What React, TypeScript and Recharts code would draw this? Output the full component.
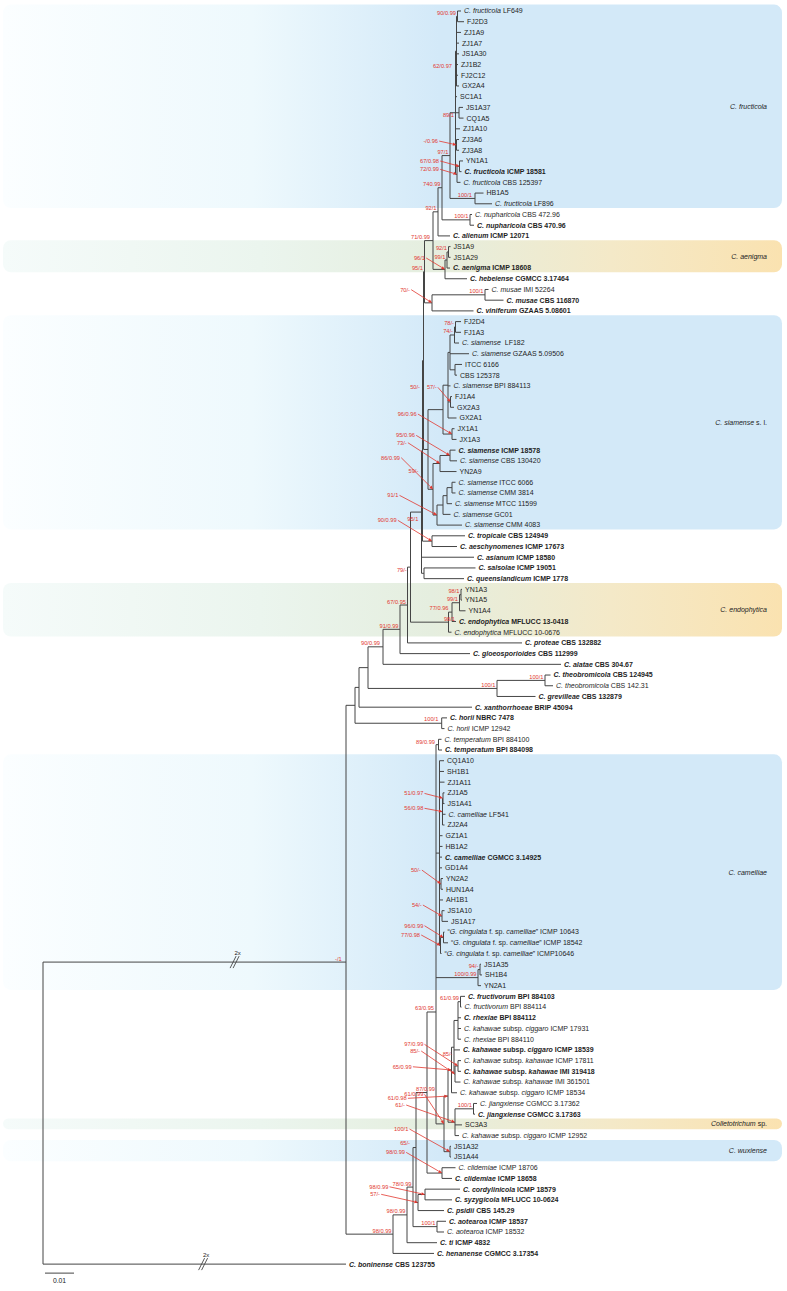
import React from 'react';
import { ComposedChart, XAxis, YAxis, Scatter, ReferenceLine, ReferenceArea } from 'recharts';

// ---------- DATA ----------
// Leaf labels (markup: text between * is italic), top to bottom
const leafLabels: string[] = [
  '*C. fructicola* LF649', 'FJ2D3', 'ZJ1A9', 'ZJ1A7', 'JS1A30', 'ZJ1B2', 'FJ2C12', 'GX2A4', 'SC1A1', 'JS1A37',
  'CQ1A5', 'ZJ1A10', 'ZJ3A6', 'ZJ3A8', 'YN1A1', '*C. fructicola* ICMP 18581', '*C. fructicola* CBS 125397', 'HB1A5', '*C. fructicola* LF896', '*C. nupharicola* CBS 472.96',
  '*C. nupharicola* CBS 470.96', '*C. alienum* ICMP 12071', 'JS1A9', 'JS1A29', '*C. aenigma* ICMP 18608', '*C. hebeiense* CGMCC 3.17464', '*C. musae* IMI 52264', '*C. musae* CBS 116870', '*C. viniferum* GZAAS 5.08601', 'FJ2D4',
  'FJ1A3', '*C. siamense*  LF182', '*C. siamense* GZAAS 5.09506', 'ITCC 6166', 'CBS 125378', '*C. siamense* BPI 884113', 'FJ1A4', 'GX2A3', 'GX2A1', 'JX1A1',
  'JX1A3', '*C. siamense* ICMP 18578', '*C. siamense* CBS 130420', 'YN2A9', '*C. siamense* ITCC 6066', '*C. siamense* CMM 3814', '*C. siamense* MTCC 11599', '*C. siamense* GC01', '*C. siamense* CMM 4083', '*C. tropicale* CBS 124949',
  '*C. aeschynomenes* ICMP 17673', '*C. asianum* ICMP 18580', '*C. salsolae* ICMP 19051', '*C. queenslandicum* ICMP 1778', 'YN1A3', 'YN1A5', 'YN1A4', '*C. endophytica* MFLUCC 13-0418', '*C. endophytica* MFLUCC 10-0676', '*C. proteae* CBS 132882',
  '*C. gloeosporioides* CBS 112999', '*C. alatae* CBS 304.67', '*C. theobromicola* CBS 124945', '*C. theobromicola* CBS 142.31', '*C. grevilleae* CBS 132879', '*C. xanthorrhoeae* BRIP 45094', '*C. horii* NBRC 7478', '*C. horii* ICMP 12942', '*C. temperatum* BPI 884100', '*C. temperatum* BPI 884098',
  'CQ1A10', 'SH1B1', 'ZJ1A11', 'ZJ1A5', 'JS1A41', '*C. camelliae* LF541', 'ZJ2A4', 'GZ1A1', 'HB1A2', '*C. camelliae* CGMCC 3.14925',
  'GD1A4', 'YN2A2', 'HUN1A4', 'AH1B1', 'JS1A10', 'JS1A17', '\u201C*G. cingulata* f. sp. *camelliae*\u201D ICMP 10643', '\u201C*G. cingulata* f. sp. *camelliae*\u201D ICMP 18542', '\u201C*G. cingulata* f. sp. *camelliae*\u201D ICMP10646', 'JS1A35',
  'SH1B4', 'YN2A1', '*C. fructivorum* BPI 884103', '*C. fructivorum* BPI 884114', '*C. rhexiae* BPI 884112', '*C. kahawae* subsp. *ciggaro* ICMP 17931', '*C. rhexiae* BPI 884110', '*C. kahawae* subsp. *ciggaro* ICMP 18539', '*C. kahawae* subsp. *kahawae* ICMP 17811', '*C. kahawae* subsp. *kahawae* IMI 319418',
  '*C. kahawae* subsp. *kahawae* IMI 361501', '*C. kahawae* subsp. *ciggaro* ICMP 18534', '*C. jiangxiense* CGMCC 3.17362', '*C. jiangxiense* CGMCC 3.17363', 'SC3A3', '*C. kahawae* subsp. *ciggaro* ICMP 12952', 'JS1A32', 'JS1A44', '*C. clidemiae* ICMP 18706', '*C. clidemiae* ICMP 18658',
  '*C. cordylinicola* ICMP 18579', '*C. syzygicola* MFLUCC 10-0624', '*C. psidii* CBS 145.29', '*C. aotearoa* ICMP 18537', '*C. aotearoa* ICMP 18532', '*C. ti* ICMP 4832', '*C. henanense* CGMCC 3.17354', '*C. boninense* CBS 123755',
];

// type strains (shown in bold)
const boldLeaves: number[] = [15, 20, 21, 24, 25, 27, 28, 41, 49, 50, 51, 52, 53, 57, 59, 60, 61, 62, 64, 65, 66, 69, 79, 92, 94, 97, 99, 103, 109, 110, 111, 112, 113, 115, 116, 117];

// parent node of every leaf
const leafParents: string[] = [
  'nF1', 'nF1', 'nF2', 'nF2', 'nF2', 'nF2', 'nF2', 'nF2', 'nFm', 'nF3a',
  'nF3a', 'nFm', 'nF3', 'nF3', 'nF4', 'nF4', 'nF5', 'nHB', 'nHB', 'nNup',
  'nNup', 'n92', 'nAe1', 'nAe1', 'nAe2', 'nAe3', 'nMus', 'nMus', 'nMV', 'nS1',
  'nS1', 'nS2', 'nS3', 'nS4', 'nS4', 'nS5', 'nS5b', 'nS5b', 'nS5', 'nS6',
  'nS6', 'nS9a', 'nS9a', 'nS9', 'nS12', 'nS12', 'nS13', 'nS14', 'nS15', 'nTA',
  'nTA', 'nC', 'nSQ', 'nSQ', 'nE1', 'nE1', 'nE2', 'nE3', 'nE4', 'n67',
  'n91', 'n90', 'nTh', 'nTh', 'nTG', 'n359', 'nHo', 'nHo', 'nTe', 'nTe',
  'nCM', 'nCM', 'nCM', 'nCa', 'nCa', 'nCb', 'nCb', 'nCM', 'nCM', 'nCM',
  'nCM', 'nCc', 'nCc', 'nCM', 'nCd', 'nCd', 'nCe', 'nCe', 'nCf', 'nJ1',
  'nJ1', 'nJ2', 'nFr', 'nFr', 'nR', 'nR', 'nR', 'nK85a', 'nKk', 'nKk',
  'nKk2', 'nK65', 'nJx', 'nJx', 'nK61c', 'nK61c', 'nJS2', 'nJS2', 'nCl', 'nCl',
  'nCS', 'nCS', 'nPs', 'nAot', 'nAot', 'N407', 'N393', 'root',
];

// cumulative branch length of every leaf (29 units = 0.01 substitutions/site)
const leafDepths: number[] = [
  418, 421, 418, 416, 416, 415, 415, 416, 414, 420,
  420.5, 417, 416, 416, 420, 418.5, 417.5, 440.5, 449, 429,
  431, 407, 407.5, 407.5, 407, 424, 445.5, 460.5, 430.5, 418,
  418, 416, 426, 419, 414, 407.5, 409, 411, 413.5, 411.5,
  413.5, 412.5, 414, 413.5, 412.5, 412.5, 409, 407.5, 419, 422,
  414, 431, 432.5, 421, 419, 419, 422.5, 413, 408.5, 479,
  427, 518, 507.5, 510, 492.5, 429, 404, 401.5, 398.5, 399,
  401, 401, 401.5, 401.5, 401.5, 402.5, 401.5, 399.5, 399.5, 399,
  399, 400, 400, 400, 401.5, 405, 401.5, 405, 398.5, 438,
  439, 438, 422, 418.5, 418, 418, 418, 417, 418, 418,
  417.5, 414, 434, 432, 419, 416, 408, 408, 412.5, 409,
  417, 409, 401, 403, 401, 394, 391, 303,
];

// internal nodes: [id, parent, cumulative depth, support (ML bootstrap / posterior)]
const internalNodes: [string, string, number, string][] = [
  ['root', '', 0, ''], ['N346', 'root', 303, '-/1'], ['nH', 'N346', 312, ''], ['n359', 'nH', 316, ''],
  ['n368', 'n359', 325, ''], ['n90', 'n368', 340, '90/0.99'], ['n91', 'n90', 357, '91/0.99'], ['n67', 'n91', 364.5, '67/0.95'],
  ['n79', 'n67', 367.5, '79/-'], ['nC', 'n79', 378.5, '95/1'], ['nU', 'nC', 379.5, '59/-'], ['nB', 'nU', 380.5, '50/-'],
  ['nA', 'nB', 381.5, '95/1'], ['n71', 'nA', 390, '71/0.99'], ['n92', 'n71', 395, '92/1'], ['nF7', 'n92', 399, '740.99'],
  ['nF6', 'nF7', 407, '97/1'], ['nFm', 'nF6', 412.5, '89/1'], ['nF2', 'nFm', 413.5, '62/0.97'], ['nF1', 'nF2', 414.5, '90/0.99'],
  ['nF3a', 'nFm', 416, ''], ['nF3', 'nFm', 413.5, '-/0.96'], ['nF5', 'nFm', 414, '72/0.99'], ['nF4', 'nF5', 416.5, '67/0.98'],
  ['nHB', 'nF6', 432, '100/1'], ['nNup', 'nF7', 427, '100/1'], ['nAe3', 'n71', 402, '96/1'], ['nAe2', 'nAe3', 404, '99/1'],
  ['nAe1', 'nAe2', 405.5, '92/1'], ['nMV', 'nA', 389, '70/-'], ['nMus', 'nMV', 442, '100/1'], ['nSR', 'nB', 385, ''],
  ['nS7', 'nSR', 400, ''], ['nS5', 'nS7', 405, ''], ['nS3', 'nS5', 407, ''], ['nS2', 'nS3', 411.5, '74/-'],
  ['nS1', 'nS2', 412.5, '78/-'], ['nS4', 'nS3', 412, ''], ['nS5b', 'nS5', 407.5, '57/-'], ['nS6', 'nS7', 409, '96/0.96'],
  ['nS10', 'nSR', 390, '86/0.99'], ['nS9', 'nS10', 397, '73/-'], ['nS9a', 'nS9', 407, '95/0.96'], ['nS15', 'nS10', 394, '91/1'],
  ['nS14', 'nS15', 400, ''], ['nS13', 'nS14', 404, ''], ['nS12', 'nS13', 409, ''], ['nTA', 'nU', 389, '90/0.99'],
  ['nSQ', 'nC', 381, ''], ['nE4', 'n79', 405.5, '98/1'], ['nE3', 'nE4', 409, '77/0.96'], ['nE2', 'nE3', 416.5, '99/1'],
  ['nE1', 'nE2', 418, '98/1'], ['nTG', 'n368', 454, '100/1'], ['nTh', 'nTG', 502, '100/1'], ['nHo', 'nH', 398.7, '100/1'],
  ['N393', 'N346', 350, '98/0.99'], ['N407', 'N393', 364, '98/0.99'], ['N413', 'N407', 370, '78/0.99'], ['N415', 'N413', 373, '65/-'],
  ['N427', 'N415', 384, '87/0.99'], ['N436', 'N427', 393, '63/0.95'], ['nTe', 'N436', 395.5, '89/0.99'], ['nCM', 'N436', 396.5, ''],
  ['nCb', 'nCM', 399.5, '56/0.98'], ['nCa', 'nCb', 400, '51/0.97'], ['nCc', 'nCM', 398, '50/-'], ['nCd', 'nCM', 399, '54/-'],
  ['nCf', 'nCM', 397.5, '77/0.98'], ['nCe', 'nCf', 400.5, '96/0.99'], ['nJ2', 'N436', 435, '100/0.99'], ['nJ1', 'nJ2', 437, '94/-'],
  ['nK61a', 'N436', 401, '61/0.99'], ['nK61b', 'nK61a', 405, '61/0.98'], ['nK65', 'nK61b', 408.5, '65/0.99'], ['nK85a', 'nK65', 411, '85/-'],
  ['nR', 'nK85a', 415, ''], ['nFr', 'nR', 417.5, '61/0.99'], ['nKk2', 'nK85a', 412, '85/-'], ['nKk', 'nKk2', 415, '97/0.99'],
  ['nK61c', 'nK61b', 412, '61/-'], ['nJx', 'nK61c', 430.5, '100/1'], ['nJS2', 'nK61a', 407, '100/1'], ['nCl', 'N427', 399, '98/0.99'],
  ['nPs', 'N415', 375, '57/-'], ['nCS', 'nPs', 382, '98/0.99'], ['nAot', 'N413', 394, '100/1'],
];

// nodes drawn off-centre in the original figure (row position)
const nodeRowOverrides: Record<string, number> = { N436: 93.46, N346: 88.8 };

// highlighted clades: [label, first leaf, last leaf, colour scheme]
const clades: [string, number, number, string][] = [
  ['*C. fructicola*', 0, 18, 'blue'],
  ['*C. aenigma*', 22, 24, 'warm'],
  ['*C. siamense* s. l.', 29, 48, 'blue'],
  ['*C. endophytica*', 54, 58, 'warm'],
  ['*C. camelliae*', 70, 91, 'blue'],
  ['*Colletotrichum* sp.', 104, 104, 'warm'],
  ['*C. wuxiense*', 106, 107, 'blue'],
];

// shortened branches: [node id, fraction along branch]
const breakMarks: [string, number][] = [['N346', 0.634], ['leaf117', 0.53]];
const scaleBarLabel = '0.01';
const scaleBarLength = 29;

// ---------- LAYOUT / STYLE ----------
const W = 787;
const H = 1291;
const X_DOMAIN: [number, number] = [-43, 744];
const Y_DOMAIN: [number, number] = [-1.027, 119.51];
const LINE = '#454545';
const RED = '#e2372f';
const FONT = "'Liberation Sans', Arial, Helvetica, sans-serif";
const BAND_X: [number, number] = [-40, 739];

// support label placement in px relative to node: [dx, dy, arrow]
const supportLayout: Record<string, [number, number, boolean]> = {
  nF2: [-4.5, 16.8, false], nFm: [-1.5, 4, false], nF3: [-18.5, -1.8, true], nF4: [-20.5, -3.3, true],
  nF5: [-18, -3, true], nHB: [-3, -1.5, false], n71: [-3, -1.3, false], nAe3: [-20, -9.4, true],
  nMV: [-22, -11.2, true], nS5b: [-13.8, -12.6, true], nB: [-3.5, 28.7, false], nS6: [-35.3, -18, true],
  nS9a: [-35, -18.1, true], nS9: [-33.3, -18.8, true], nS10: [-33, -29.6, true], nU: [-4.2, 22.1, false],
  nS15: [-38.7, -17.7, true], nTA: [-35.3, -18.8, true], nC: [-3.2, 8.6, false], n79: [-3.8, 5.2, false],
  nE3: [-3.5, -1.8, false], nE4: [6.5, -1, false], n90: [-3, -1.5, false], nHo: [-3.4, -2.2, false],
  nTe: [-3.5, -1, false], nCa: [-19.7, -2.8, true], nCb: [-19.2, -1.3, true], nCc: [-20.3, -11.8, true],
  nCd: [-20.3, -9, true], nCe: [-20.2, -9.7, true], nCf: [-20.5, -8.5, true], N436: [-2, -1.7, false],
  nKk: [-34.7, -19.6, true], nKk2: [-35, -21, true], nK85a: [-1.5, 9.1, false], nK65: [-39.8, -1.2, true],
  nK61a: [-20.7, -27.6, true], nK61b: [-41.3, 4.2, true], nK61c: [-50, -15.2, true], N427: [8, -2, false],
  nJS2: [-41.7, -20.6, true], nCl: [-37, -18.7, true], N415: [-6, -2.2, false], nCS: [-36.7, -5.7, true],
  nPs: [-38, -6.2, true], N346: [-4.3, -1.5, false],
};

// ---------- TREE BUILD ----------
type TNode = { id: string; parent: string; x: number; y: number; support: string; kids: TNode[]; leaf: boolean; idx: number };

function buildTree() {
  const map = new Map<string, TNode>();
  internalNodes.forEach(([id, parent, x, support]) =>
    map.set(id, { id, parent, x, y: 0, support, kids: [], leaf: false, idx: -1 })
  );
  leafLabels.forEach((_, i) =>
    map.set('leaf' + i, { id: 'leaf' + i, parent: leafParents[i], x: leafDepths[i], y: i, support: '', kids: [], leaf: true, idx: i })
  );
  map.forEach((n) => {
    if (n.parent) {
      const p = map.get(n.parent);
      if (p) p.kids.push(n);
    }
  });
  const span = new Map<string, [number, number]>();
  const setY = (n: TNode): number => {
    if (n.leaf) return n.y;
    const ys = n.kids.map(setY);
    const lo = Math.min(...ys);
    const hi = Math.max(...ys);
    span.set(n.id, [lo, hi]);
    n.y = nodeRowOverrides[n.id] ?? (lo + hi) / 2;
    return n.y;
  };
  setY(map.get('root')!);
  const segs: { a: number; b: number; c: number; d: number }[] = [];
  map.forEach((n) => {
    if (n.parent && map.get(n.parent)) {
      const p = map.get(n.parent)!;
      segs.push({ a: p.x, b: n.y, c: n.x, d: n.y });
    }
    if (!n.leaf && span.has(n.id)) {
      const [lo0, hi0] = span.get(n.id)!;
      const lo = Math.min(lo0, n.y);
      const hi = Math.max(hi0, n.y);
      if (hi > lo) segs.push({ a: n.x, b: lo, c: n.x, d: hi });
    }
  });
  return { map, segs };
}

const { map: treeMap, segs: treeSegs } = buildTree();

const leafPoints = leafLabels.map((label, i) => {
  const n = treeMap.get('leaf' + i)!;
  return { x: n.x, y: n.y, label, bold: boldLeaves.includes(i) };
});

const supportPoints = internalNodes
  .filter(([, , , s]) => s)
  .map(([id, , , s]) => {
    const n = treeMap.get(id)!;
    return { x: n.x, y: n.y, text: s, lay: supportLayout[id] || [-1.5, -1.5, false] };
  });

const breakPoints = breakMarks.map(([id, f]) => {
  const n = treeMap.get(id)!;
  const p = treeMap.get(n.parent)!;
  return { x: p.x + f * (n.x - p.x), y: n.y };
});

const lastRow = leafLabels.length - 1;
const scaleRow = lastRow + 0.84;
const scaleStart = 2;

// ---------- RENDER HELPERS ----------
const italicSpans = (s: string) =>
  s.split('*').map((p, i) =>
    p ? (
      <tspan key={i} fontStyle={i % 2 ? 'italic' : 'normal'}>
        {p}
      </tspan>
    ) : null
  );

const LeafLabel = (props: any) => {
  const { cx, cy, payload } = props;
  if (cx == null || cy == null) return null;
  return (
    <text x={cx + 3} y={cy + 2.4} fontSize={7} fontFamily={FONT} fontWeight={payload.bold ? 700 : 400} fill="#1e1e1e" style={{ whiteSpace: 'pre' }}>
      {italicSpans(payload.label)}
    </text>
  );
};

const SupportLabel = (props: any) => {
  const { cx, cy, payload } = props;
  if (cx == null || cy == null) return null;
  const [dx, dy, arrow] = payload.lay as [number, number, boolean];
  const tx = cx + dx;
  const ty = cy + dy;
  let arrowEls: React.ReactNode = null;
  if (arrow) {
    const sx = tx + 1.2;
    const sy = ty - 2;
    const vx = cx - sx;
    const vy = cy - sy;
    const len = Math.sqrt(vx * vx + vy * vy) || 1;
    const ux = vx / len;
    const uy = vy / len;
    const bx = cx - ux * 3.6;
    const by = cy - uy * 3.6;
    const px = -uy * 1.6;
    const py = ux * 1.6;
    arrowEls = (
      <g>
        <line x1={sx} y1={sy} x2={bx} y2={by} stroke={RED} strokeWidth={0.8} />
        <polygon points={`${cx},${cy} ${bx + px},${by + py} ${bx - px},${by - py}`} fill={RED} />
      </g>
    );
  }
  return (
    <g>
      {arrowEls}
      <text x={tx} y={ty} fontSize={5.7} fontFamily={FONT} fill={RED} textAnchor="end">
        {payload.text}
      </text>
    </g>
  );
};

const BreakMark = (props: any) => {
  const { cx, cy } = props;
  if (cx == null || cy == null) return null;
  return (
    <g>
      <line x1={cx - 5} y1={cy + 6} x2={cx + 1} y2={cy - 6} stroke={LINE} strokeWidth={0.9} />
      <line x1={cx - 2} y1={cy + 6} x2={cx + 4} y2={cy - 6} stroke={LINE} strokeWidth={0.9} />
      <text x={cx + 2.5} y={cy - 7} fontSize={6} fontFamily={FONT} fill="#222" textAnchor="middle">
        2x
      </text>
    </g>
  );
};

const ScaleText = (props: any) => {
  const { cx, cy } = props;
  if (cx == null || cy == null) return null;
  return (
    <text x={cx} y={cy + 10} fontSize={6.8} fontFamily={FONT} fill="#222" textAnchor="middle">
      {scaleBarLabel}
    </text>
  );
};

const makeBandShape = (label: string, kind: string) => (p: any) => {
  const { x, y, width, height } = p;
  if (x == null || width == null) return null;
  const r = Math.min(8, height / 2);
  return (
    <g>
      <rect x={x} y={y} width={width} height={height} rx={r} ry={r} fill={`url(#band-${kind})`} />
      <text x={x + width - 15} y={y + height / 2 + 2.4} fontSize={7} fontFamily={FONT} fill="#222" textAnchor="end">
        {italicSpans(label)}
      </text>
    </g>
  );
};

export default function App() {
  return (
    <div style={{ position: 'absolute', left: 0, top: 0, width: W, height: H, background: '#fff' }}>
      <ComposedChart width={W} height={H} margin={{ top: 0, right: 0, bottom: 0, left: 0 }}>
        <defs>
          <linearGradient id="band-blue" x1="0" y1="0" x2="1" y2="0">
            <stop offset="0" stopColor="#fbfeff" />
            <stop offset="0.32" stopColor="#eef9fd" />
            <stop offset="0.56" stopColor="#d3e9f8" />
            <stop offset="1" stopColor="#d3e9f8" />
          </linearGradient>
          <linearGradient id="band-warm" x1="0" y1="0" x2="1" y2="0">
            <stop offset="0" stopColor="#f5fbfa" />
            <stop offset="0.33" stopColor="#ebf5ee" />
            <stop offset="0.55" stopColor="#e5eedf" />
            <stop offset="0.78" stopColor="#f4e9c8" />
            <stop offset="1" stopColor="#fae2b0" />
          </linearGradient>
        </defs>
        <XAxis type="number" dataKey="x" domain={X_DOMAIN} hide allowDataOverflow />
        <YAxis type="number" dataKey="y" domain={Y_DOMAIN} hide reversed allowDataOverflow />
        {clades.map(([label, a, b, kind], i) => (
          <ReferenceArea
            key={'band' + i}
            x1={BAND_X[0]}
            x2={BAND_X[1]}
            y1={a - 0.6}
            y2={b + 0.4}
            ifOverflow="visible"
            shape={makeBandShape(label, kind)}
          />
        ))}
        {treeSegs.map((s, i) => (
          <ReferenceLine
            key={'e' + i}
            segment={[{ x: s.a, y: s.b }, { x: s.c, y: s.d }]}
            stroke={LINE}
            strokeWidth={1}
            ifOverflow="visible"
          />
        ))}
        <ReferenceLine
          segment={[{ x: scaleStart, y: scaleRow }, { x: scaleStart + scaleBarLength, y: scaleRow }]}
          stroke={LINE}
          strokeWidth={1}
          ifOverflow="visible"
        />
        <Scatter data={leafPoints} shape={LeafLabel} isAnimationActive={false} />
        <Scatter data={supportPoints} shape={SupportLabel} isAnimationActive={false} />
        <Scatter data={breakPoints} shape={BreakMark} isAnimationActive={false} />
        <Scatter data={[{ x: scaleStart + scaleBarLength / 2, y: scaleRow }]} shape={ScaleText} isAnimationActive={false} />
      </ComposedChart>
    </div>
  );
}
